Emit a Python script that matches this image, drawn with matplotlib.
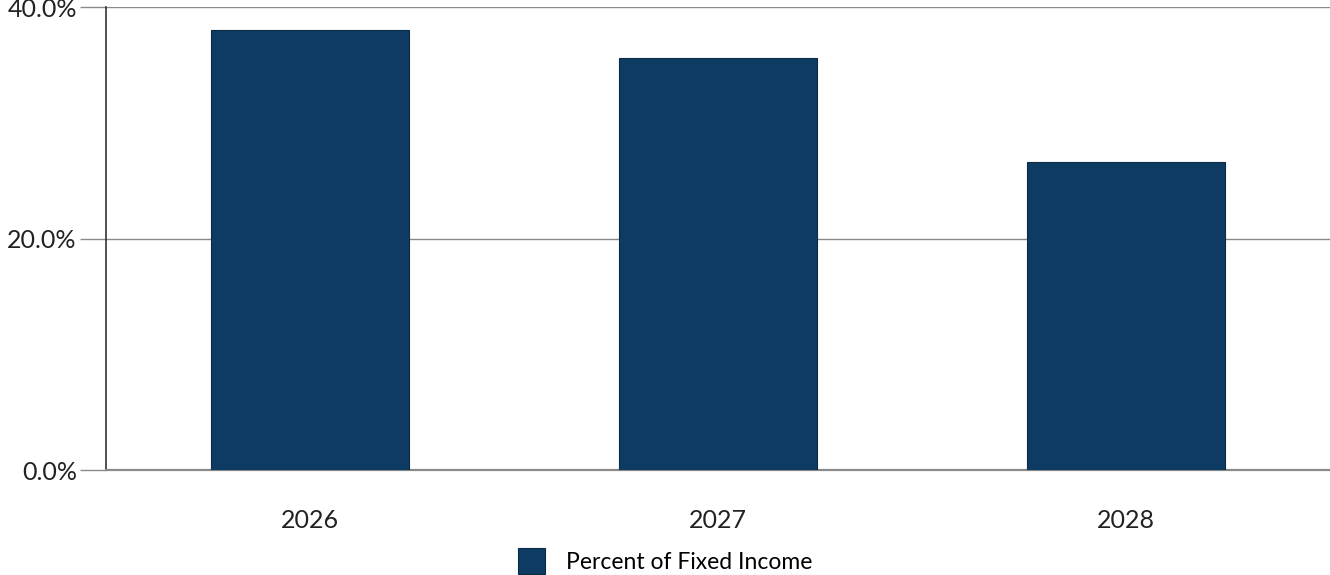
import matplotlib

matplotlib.use("Agg")

import matplotlib.pyplot as plt
from matplotlib.ticker import FuncFormatter, MultipleLocator

# share of fixed income by year
years = ["2026", "2027", "2028"]
pct_fixed_income = [38.0, 35.6, 26.6]

BAR_COLOR = "#0e3b61"
GRID_COLOR = "#8a8a8a"

plt.rcParams["font.family"] = ["Lato", "DejaVu Sans"]

fig = plt.figure(figsize=(13.3, 5.75), dpi=100)
ax = fig.add_axes([106 / 1330, 1 - 470 / 575, 1 - 106 / 1330, (470 - 7) / 575])

x = range(len(years))
ax.bar(x, pct_fixed_income, width=0.483, color=BAR_COLOR,
       edgecolor="#0a2a45", linewidth=0.8, zorder=3,
       label="Percent of Fixed Income")

ax.set_xlim(-0.5, len(years) - 0.5)
ax.set_ylim(0, 40)
ax.yaxis.set_major_locator(MultipleLocator(20))
ax.yaxis.set_major_formatter(FuncFormatter(lambda v, _: f"{v:.1f}%"))
ax.set_xticks(list(x))
ax.set_xticklabels(years)

ax.grid(axis="y", color=GRID_COLOR, linewidth=1.0, zorder=0)
ax.set_axisbelow(True)
for side in ("top", "right"):
    ax.spines[side].set_visible(False)
ax.spines["left"].set_color("#333333")
ax.spines["left"].set_linewidth(1.2)
ax.spines["bottom"].set_color(GRID_COLOR)
ax.spines["bottom"].set_linewidth(1.6)

ax.tick_params(axis="y", length=19, width=1.0, color=GRID_COLOR,
               labelsize=18, labelcolor="#222222", pad=2)
ax.tick_params(axis="x", length=0, labelsize=18, labelcolor="#222222", pad=28)

leg = fig.legend(loc="center", bbox_to_anchor=(0.5, 1 - 561 / 575),
                 frameon=False, fontsize=16.5, handlelength=1.2,
                 handleheight=1.4, handletextpad=0.9)

fig.savefig("out.png", dpi=100)
